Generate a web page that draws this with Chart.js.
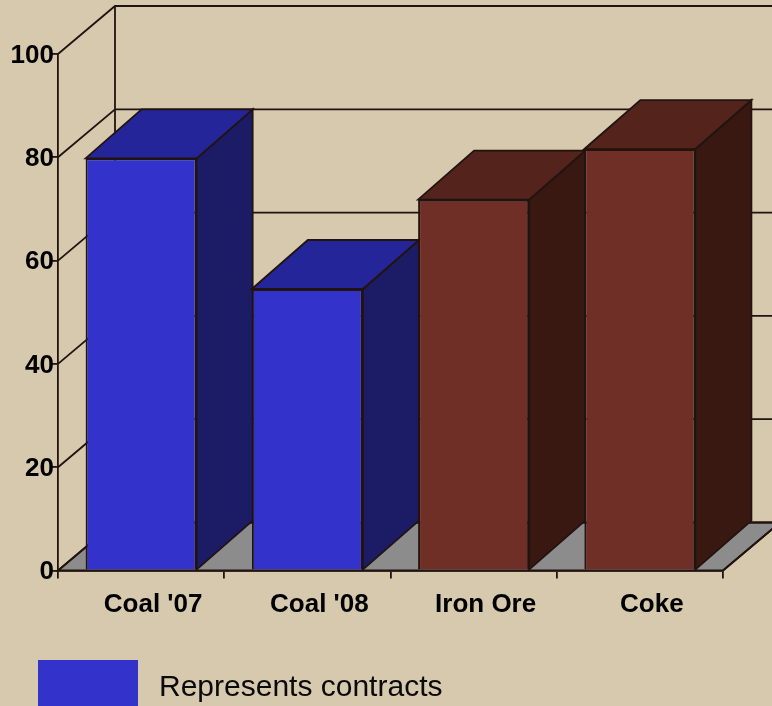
<!DOCTYPE html>
<html>
<head>
<meta charset="utf-8">
<style>
  html, body { margin: 0; height: 100%; overflow: hidden; background: #d6c9ad; }
  #wrap { position: relative; width: 772px; height: 706px; overflow: hidden; }
  canvas { display: block; }
  .swatch { position: absolute; left: 38px; top: 660px; width: 100px; height: 60px; background: #3333cc; }
  .legend-text { position: absolute; left: 159px; top: 668px; font: 30px "Liberation Sans", Arial, sans-serif; line-height: 36px; color: #0a0a0a; white-space: nowrap; }
</style>
</head>
<body>
<div id="wrap">
  <canvas id="chart" width="772" height="706"></canvas>
  <div class="swatch"></div>
  <div class="legend-text">Represents contracts</div>
</div>
<script src="https://cdn.jsdelivr.net/npm/chart.js@4"></script>
<script>
const categories = ["Coal '07", "Coal '08", 'Iron Ore', 'Coke'];
const values = [79.8, 54.5, 71.8, 81.6];
const frontColors = ['#3333cc', '#3333cc', '#6f2f27', '#6f2f27'];
const topColors = ['#25259a', '#25259a', '#54231b', '#54231b'];
const sideColors = ['#1b1b66', '#1b1b66', '#391812', '#391812'];

const lineColor = '#21130f';
const floorColor = '#8c8c8c';
const wallDepth = { x: 57, y: 48 };
const barDepth = { x: 56, y: 49 };

function poly(ctx, points, fill) {
  ctx.beginPath();
  points.forEach(([x, y], i) => (i ? ctx.lineTo(x, y) : ctx.moveTo(x, y)));
  ctx.closePath();
  ctx.fillStyle = fill;
  ctx.fill();
  ctx.stroke();
}

// Floor, walls and the extruded top and side of each bar
const box3d = {
  id: 'box3d',
  beforeDatasetsDraw(chart) {
    const { ctx, chartArea: area, scales } = chart;
    const dx = wallDepth.x;
    const dy = wallDepth.y;
    ctx.save();
    ctx.strokeStyle = lineColor;
    ctx.lineWidth = 1.8;

    poly(ctx, [
      [area.left, area.bottom],
      [area.right, area.bottom],
      [area.right + dx, area.bottom - dy],
      [area.left + dx, area.bottom - dy],
    ], floorColor);

    ctx.beginPath();
    scales.y.ticks.forEach((tick) => {
      const y = scales.y.getPixelForValue(tick.value);
      ctx.moveTo(area.left, y);
      ctx.lineTo(area.left + dx, y - dy);
      ctx.lineTo(area.right + dx, y - dy);
    });
    ctx.moveTo(area.left + dx, area.top - dy);
    ctx.lineTo(area.left + dx, area.bottom - dy);
    ctx.moveTo(area.right, area.bottom);
    ctx.lineTo(area.right + dx, area.bottom - dy);
    ctx.stroke();

    chart.getDatasetMeta(0).data.forEach((bar, i) => {
      const left = bar.x - bar.width / 2;
      const right = bar.x + bar.width / 2;
      poly(ctx, [
        [right, bar.y],
        [right + barDepth.x, bar.y - barDepth.y],
        [right + barDepth.x, bar.base - barDepth.y],
        [right, bar.base],
      ], sideColors[i]);
      poly(ctx, [
        [left, bar.y],
        [left + barDepth.x, bar.y - barDepth.y],
        [right + barDepth.x, bar.y - barDepth.y],
        [right, bar.y],
      ], topColors[i]);
    });
    ctx.restore();
  },
};

new Chart(document.getElementById('chart'), {
  type: 'bar',
  data: {
    labels: categories,
    datasets: [{
      label: 'Represents contracts',
      data: values,
      backgroundColor: frontColors,
      borderColor: lineColor,
      borderWidth: 2,
      categoryPercentage: 1,
      barPercentage: 0.668,
    }],
  },
  options: {
    responsive: false,
    animation: false,
    layout: { padding: { top: 54, right: 49 } },
    plugins: { legend: { display: false }, tooltip: { enabled: false } },
    scales: {
      x: {
        afterFit: (scale) => { scale.height = 135.5; },
        grid: { drawOnChartArea: false, color: lineColor, lineWidth: 1.8, tickLength: 8 },
        border: { color: lineColor, width: 1.8 },
        ticks: {
          color: '#000',
          font: { family: '"Liberation Sans", Arial, sans-serif', size: 26, weight: 'bold' },
          labelOffset: 12,
          padding: 11,
          maxRotation: 0,
        },
      },
      y: {
        min: 0,
        max: 100,
        afterFit: (scale) => { scale.width = 58; },
        grid: { drawOnChartArea: false, color: lineColor, lineWidth: 1.8, tickLength: 6 },
        border: { color: lineColor, width: 1.8 },
        ticks: {
          stepSize: 20,
          color: '#000',
          font: { family: '"Liberation Sans", Arial, sans-serif', size: 26, weight: 'bold' },
          labelOffset: 1.5,
          padding: -2,
        },
      },
    },
  },
  plugins: [box3d],
});
</script>
</body>
</html>
